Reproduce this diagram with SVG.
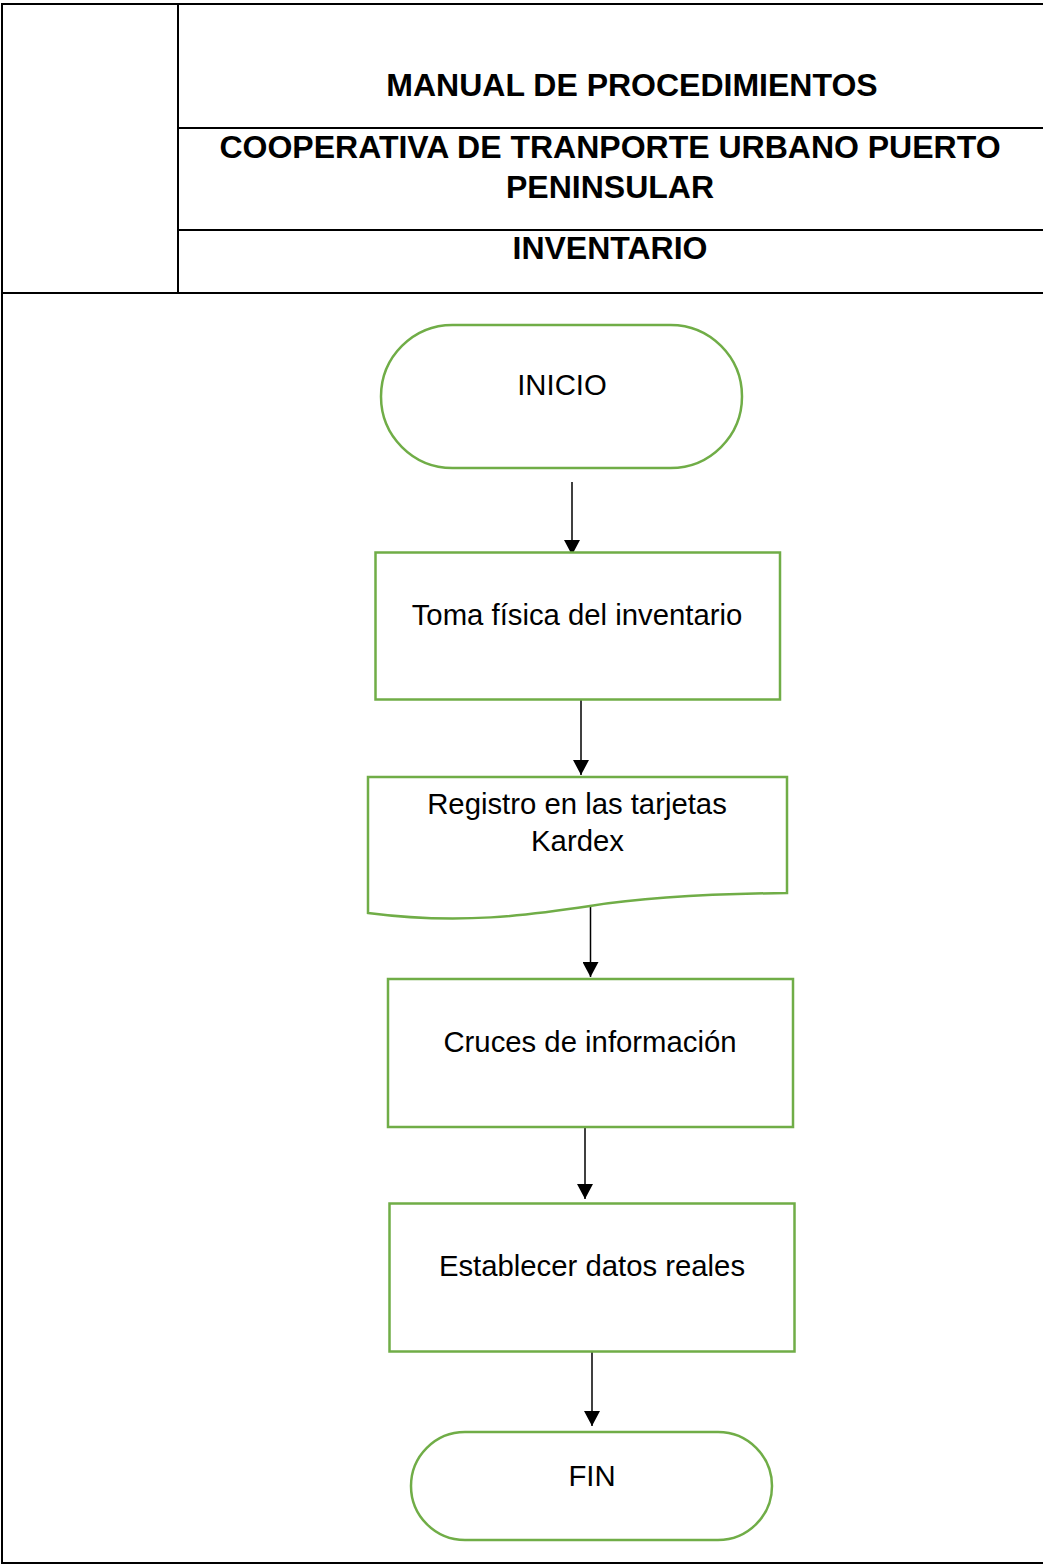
<svg xmlns="http://www.w3.org/2000/svg" width="1043" height="1564" viewBox="0 0 1043 1564">
<style>
.frame{fill:none;stroke:#000;stroke-width:2}
.node{fill:#fff;stroke:#70AD47;stroke-width:2.5}
.hdr{font-family:"Liberation Sans",Arial,sans-serif;font-weight:bold;font-size:32px;fill:#000;text-anchor:middle}
.lbl{font-family:"Liberation Sans",Arial,sans-serif;font-size:29.3px;fill:#000;text-anchor:middle}
.conn{stroke:#000;stroke-width:1.5;fill:none;marker-end:url(#ah)}
</style>
<defs>
<marker id="ah" markerUnits="userSpaceOnUse" markerWidth="15" markerHeight="16" refX="15" refY="8" orient="auto" viewBox="0 0 15 16">
<path d="M0,0 L15,8 L0,16 Z" fill="#000"/>
</marker>
</defs>
<rect width="1043" height="1564" fill="#fff"/>
<g id="header">
<line class="frame" x1="2" y1="4" x2="1043" y2="4"/>
<line class="frame" x1="2" y1="3" x2="2" y2="1564"/>
<line class="frame" x1="178" y1="4" x2="178" y2="293"/>
<line class="frame" x1="178" y1="128" x2="1043" y2="128"/>
<line class="frame" x1="178" y1="230" x2="1043" y2="230"/>
<line class="frame" x1="2" y1="293" x2="1043" y2="293"/>
<line class="frame" x1="2" y1="1563" x2="1043" y2="1563"/>
<text class="hdr" x="632" y="96">MANUAL DE PROCEDIMIENTOS</text>
<text class="hdr" x="610" y="158">COOPERATIVA DE TRANPORTE URBANO PUERTO</text>
<text class="hdr" x="610" y="198">PENINSULAR</text>
<text class="hdr" x="610" y="259">INVENTARIO</text>
</g>
<g id="connectors">
<line class="conn" x1="572" y1="482" x2="572" y2="555"/>
<line class="conn" x1="581" y1="700" x2="581" y2="775"/>
<line class="conn" x1="590.5" y1="902" x2="590.5" y2="977"/>
<line class="conn" x1="585" y1="1125" x2="585" y2="1199"/>
<line class="conn" x1="592" y1="1352" x2="592" y2="1426"/>
</g>
<g id="n-inicio">
<rect class="node" x="381" y="325" width="361" height="143" rx="71.5" ry="71.5"/>
<text class="lbl" x="562" y="395">INICIO</text>
</g>
<g id="n-toma">
<rect class="node" x="375.5" y="552.5" width="404.5" height="147"/>
<text class="lbl" x="577" y="625">Toma física del inventario</text>
</g>
<g id="n-registro">
<path class="node" d="M368,777 H787 V893 C700,894 640,898 590,906 C530,915 460,925 368,913 Z"/>
<text class="lbl" x="577" y="814">Registro en las tarjetas</text>
<text class="lbl" x="577.5" y="851">Kardex</text>
</g>
<g id="n-cruces">
<rect class="node" x="388" y="979" width="405" height="148"/>
<text class="lbl" x="590" y="1052">Cruces de información</text>
</g>
<g id="n-establecer">
<rect class="node" x="389.5" y="1203.5" width="405" height="148"/>
<text class="lbl" x="592" y="1276">Establecer datos reales</text>
</g>
<g id="n-fin">
<rect class="node" x="411" y="1432" width="361" height="108" rx="54" ry="54"/>
<text class="lbl" x="592" y="1486">FIN</text>
</g>
</svg>
